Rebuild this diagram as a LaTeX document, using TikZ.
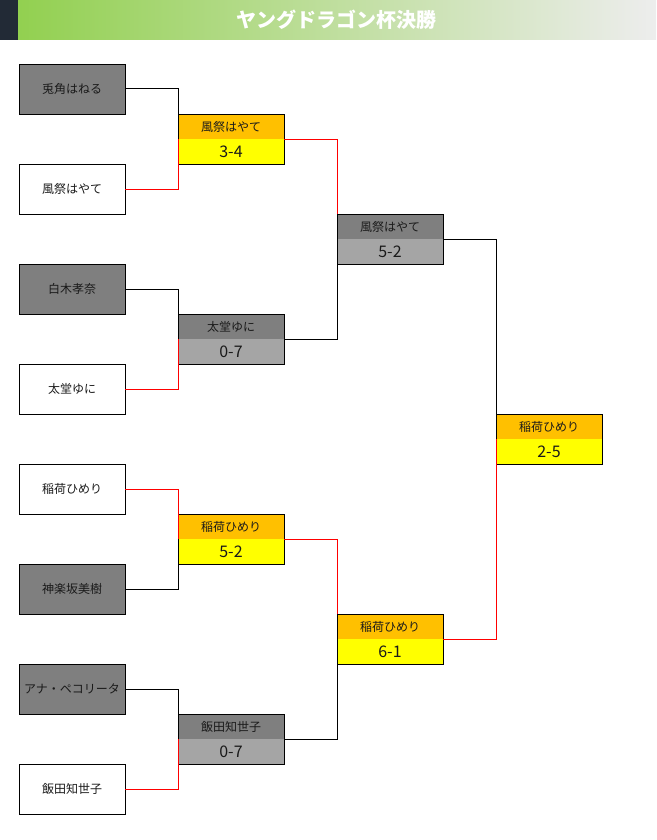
\documentclass[tikz,border=0pt]{standalone}
\usepackage{fontspec}
\setmainfont{Noto Sans CJK JP}
\definecolor{hdrdark}{HTML}{222A36}
\definecolor{hdrgreen}{HTML}{92D050}
\definecolor{hdrgray}{HTML}{EDEDED}
\definecolor{losegray}{HTML}{7F7F7F}
\definecolor{losegraylt}{HTML}{A5A5A5}
\definecolor{winorange}{HTML}{FFC000}
\definecolor{winyellow}{HTML}{FFFF00}
\definecolor{winred}{HTML}{FF0000}
\definecolor{txt}{HTML}{1A1A1A}
\tikzset{
  entry/.style={draw=black, line width=0.9pt, minimum width=106pt, minimum height=50pt, inner sep=0pt, outer sep=0pt, text=txt, font=\fontsize{12}{12}\selectfont},
  lost/.style={fill=losegray},
  won/.style={fill=white},
  half/.style={minimum width=106pt, minimum height=25pt, inner sep=0pt, outer sep=0pt, text=txt},
  namerow/.style={half, font=\fontsize{12}{12}\selectfont},
  scorerow/.style={half, font=\fontsize{16}{16}\selectfont},
  border/.style={draw=black, line width=0.9pt},
  lose/.style={draw=black, line width=1pt},
  win/.style={draw=winred, line width=1pt},
}
\newcommand{\matchbox}[6]{%
  % #1 name, #2 x, #3 top y, #4 player, #5 score, #6 win(1)/lose(0)
  \ifnum#6=1
    \node[namerow, fill=winorange] (#1t) at (#2,#3+12.5) {#4};
    \node[scorerow, fill=winyellow] (#1b) at (#2,#3+37.5) {#5};
  \else
    \node[namerow, fill=losegray] (#1t) at (#2,#3+12.5) {#4};
    \node[scorerow, fill=losegraylt] (#1b) at (#2,#3+37.5) {#5};
  \fi
  \draw[border] (#1t.north west) rectangle (#1b.south east);
}
\begin{document}
\begin{tikzpicture}[x=1pt,y=-1pt]
\useasboundingbox (0,0) rectangle (656,840);
% header
\fill[hdrdark] (0,0) rectangle (18,40);
\shade[left color=hdrgreen, right color=hdrgray] (18,0) rectangle (656,40);
\node[text=white, font=\fontsize{20}{20}\selectfont\bfseries] (title) at (336,20) {ヤングドラゴン杯決勝};

% round 1
\node[entry, lost] (e1) at (72,89) {兎角はねる};
\node[entry, won]  (e2) at (72,189) {風祭はやて};
\node[entry, lost] (e3) at (72,289) {白木孝奈};
\node[entry, won]  (e4) at (72,389) {太堂ゆに};
\node[entry, won]  (e5) at (72,489) {稲荷ひめり};
\node[entry, lost] (e6) at (72,589) {神楽坂美樹};
\node[entry, lost] (e7) at (72,689) {アナ・ペコリータ};
\node[entry, won]  (e8) at (72,789) {飯田知世子};

% round 2
\matchbox{ma}{231}{114}{風祭はやて}{3-4}{1}
\matchbox{mb}{231}{314}{太堂ゆに}{0-7}{0}
\matchbox{mc}{231}{514}{稲荷ひめり}{5-2}{1}
\matchbox{md}{231}{714}{飯田知世子}{0-7}{0}

% round 3
\matchbox{sa}{390}{214}{風祭はやて}{5-2}{0}
\matchbox{sb}{390}{614}{稲荷ひめり}{6-1}{1}

% final
\matchbox{fi}{549}{414}{稲荷ひめり}{2-5}{1}

% connectors round 1 -> 2
\draw[lose] (e1.east) -| (mat.north west);
\draw[win]  (e2.east) -| (mat.south west);
\draw[lose] (e3.east) -| (mbt.north west);
\draw[win]  (e4.east) -| (mbt.south west);
\draw[win]  (e5.east) -| (mct.south west);
\draw[lose] (e6.east) -| (mcb.south west);
\draw[lose] (e7.east) -| (mdt.north west);
\draw[win]  (e8.east) -| (mdt.south west);

% round 2 -> 3
\draw[win]  (mat.south east) -| (sat.north west);
\draw[lose] (mbt.south east) -| (sab.south west);
\draw[win]  (mct.south east) -| (sbt.north west);
\draw[lose] (mdt.south east) -| (sbb.south west);

% round 3 -> final
\draw[lose] (sat.south east) -| (fit.north west);
\draw[win]  (sbt.south east) -| (fit.south west);
\end{tikzpicture}
\end{document}
